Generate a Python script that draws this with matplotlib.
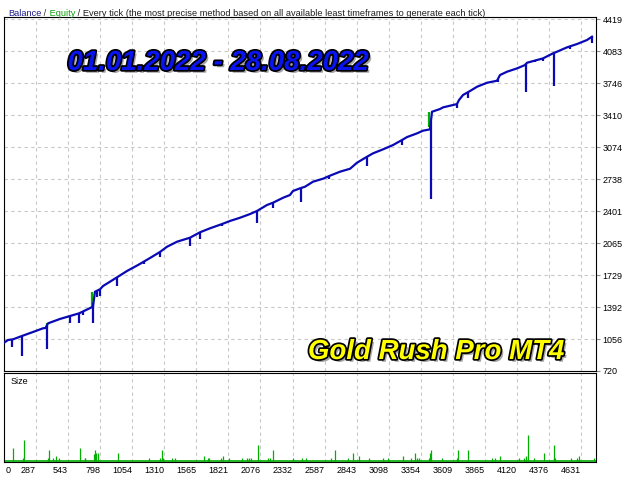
import matplotlib.pyplot as plt
import matplotlib.patheffects as pe
import numpy as np

# balance curve: trade number -> balance
bal_t = [32, 64, 104, 175, 263, 343, 363, 383, 478, 558, 630, 741, 757, 797, 821, 877,
         933, 1012, 1100, 1196, 1275, 1331, 1411, 1514, 1594, 1674, 1770, 1833, 1913,
         1993, 2048, 2128, 2176, 2256, 2311, 2335, 2391, 2431, 2495, 2574, 2630, 2710,
         2790, 2845, 2925, 2973, 3053, 3132, 3204, 3244, 3324, 3371, 3427, 3443, 3507,
         3531, 3611, 3642, 3658, 3690, 3746, 3802, 3882, 3961, 3985, 4041, 4121, 4184,
         4200, 4280, 4328, 4407, 4439, 4519, 4599, 4678, 4718]
bal_v = [1017, 1046, 1053, 1088, 1130, 1169, 1172, 1221, 1267, 1298, 1326, 1396, 1553,
         1579, 1613, 1659, 1705, 1771, 1834, 1908, 1971, 2026, 2079, 2121, 2178, 2220,
         2265, 2297, 2331, 2370, 2402, 2465, 2489, 2541, 2570, 2612, 2640, 2657, 2710,
         2741, 2773, 2815, 2846, 2909, 2972, 3008, 3050, 3095, 3148, 3179, 3218, 3246,
         3260, 3445, 3474, 3491, 3516, 3526, 3568, 3621, 3663, 3708, 3750, 3771, 3831,
         3866, 3901, 3936, 3960, 3989, 4006, 4059, 4076, 4122, 4157, 4199, 4234]

# equity drawdowns (trade number, lowest equity)
spike_t = [96, 179, 372, 558, 630, 662, 745, 773, 797, 933, 1148, 1275, 1514, 1594,
           1770, 2048, 2176, 2399, 2622, 2925, 3204, 3435, 3642, 3730, 3969, 4192,
           4264, 4328, 4415, 4543, 4718]
spike_low = [972, 878, 956, 1224, 1221, 1309, 1228, 1501, 1508, 1613, 1841, 1915, 2034,
             2110, 2244, 2272, 2430, 2499, 2734, 2878, 3095, 2528, 3481, 3586, 3761,
             3649, 3968, 3978, 3715, 4101, 4170]

# equity jumps (green)
jump_t = [371, 733, 3419, 4192]
jump_lo = [1172, 1396, 3284, 3930]
jump_hi = [1221, 1553, 3442, 3960]

# position sizes
size_t = [106, 186, 194, 380, 388, 425, 449, 473, 640, 675, 680, 747, 755, 763, 784, 943,
          1190, 1275, 1289, 1302, 1373, 1397, 1628, 1660, 1668, 1764, 1780, 1828, 1931,
          1971, 1987, 2003, 2059, 2138, 2152, 2178, 2338, 2405, 2439, 2636, 2672, 2771,
          2816, 2859, 2939, 3055, 3095, 3214, 3278, 3310, 3326, 3342, 3417, 3425, 3438,
          3525, 3645, 3653, 3733, 3919, 3948, 3988, 4136, 4179, 4195, 4205, 4258, 4338,
          4412, 4417, 4425, 4547, 4597, 4611, 4731]
size_v = [0.08, 0.02, 0.13, 0.02, 0.07, 0.02, 0.03, 0.02, 0.08, 0.02, 0.02, 0.04, 0.07,
          0.05, 0.05, 0.05, 0.02, 0.02, 0.07, 0.02, 0.02, 0.02, 0.03, 0.02, 0.02, 0.02,
          0.03, 0.02, 0.02, 0.02, 0.02, 0.02, 0.10, 0.02, 0.02, 0.07, 0.02, 0.02, 0.02,
          0.02, 0.07, 0.02, 0.05, 0.03, 0.02, 0.02, 0.02, 0.03, 0.02, 0.05, 0.02, 0.02,
          0.02, 0.05, 0.07, 0.02, 0.02, 0.07, 0.07, 0.02, 0.02, 0.03, 0.02, 0.02, 0.03,
          0.16, 0.02, 0.05, 0.02, 0.10, 0.02, 0.02, 0.02, 0.03, 0.02]

y_ticks = [720, 1056, 1392, 1729, 2065, 2401, 2738, 3074, 3410, 3746, 4083, 4419]
x_ticks = [287, 543, 798, 1054, 1310, 1565, 1821, 2076, 2332, 2587, 2843, 3098, 3354,
           3609, 3865, 4120, 4376, 4631]

BLUE = '#0a0ab4'
GREEN = '#00b000'
GRID = '#c8c8c8'

plt.rcParams['font.family'] = ['Liberation Sans', 'DejaVu Sans']

fig = plt.figure(figsize=(6.4, 4.8), dpi=100)
ax = fig.add_axes([4 / 640, 109 / 480, 591.5 / 640, 354 / 480])
ax2 = fig.add_axes([4 / 640, 18 / 480, 591.5 / 640, 89 / 480])

xlim = (32, 4746)

# --- main panel ---
ax.set_xlim(*xlim)
ax.set_ylim(720, 4441)
ax.set_xticks(x_ticks)
ax.set_yticks(y_ticks)
ax.tick_params(axis='x', length=0, labelbottom=False)
ax.yaxis.tick_right()
ax.tick_params(axis='y', length=3, color='#909090', labelsize=6.5, pad=2)
ax.grid(color=GRID, ls=(0, (3, 3)), lw=0.8)

ax.vlines(jump_t, jump_lo, jump_hi, color=GREEN, lw=1.6, zorder=3)
spike_top = np.interp(spike_t, bal_t, bal_v)
ax.vlines(spike_t, spike_low, spike_top, color=BLUE, lw=1.6, zorder=4)
ax.plot(bal_t, bal_v, color=BLUE, lw=1.6, zorder=4)

shadow = pe.SimplePatchShadow(offset=(2, -2), shadow_rgbFace='black', alpha=0.35)
big = dict(ha='center', va='center', fontsize=19.9, fontweight='bold', fontstyle='italic',
           path_effects=[shadow, pe.Stroke(linewidth=2.5, foreground='black'), pe.Normal()])
fig.text(218 / 640, 1 - 63 / 480, '01.01.2022 - 28.08.2022', color='#0a14f0', **big)
fig.text(436 / 640, 1 - 352 / 480, 'Gold Rush Pro MT4', color='#ffff00', **big)

# header, coloured piece by piece
prev = fig.text(8 / 640, 1 - 13.5 / 480, 'Balance', color='#1e1e8c', fontsize=6.7, va='center')
for txt, col in [(' /', '#303030'), (' Equity', '#10a010'),
                 (' / Every tick (the most precise method based on all available least '
                  'timeframes to generate each tick)', '#202020')]:
    prev = ax.annotate(txt, xy=(1, 0.5), xycoords=prev, va='center', ha='left',
                       color=col, fontsize=6.7, annotation_clip=False)

# --- size panel ---
ax2.set_xlim(*xlim)
ax2.set_ylim(-0.008, 0.548)
ax2.set_xticks(x_ticks)
ax2.set_xticklabels([str(v) for v in x_ticks], ha='right')
ax2.set_yticks([])
ax2.tick_params(axis='x', length=0, labelsize=6.5, pad=3)
ax2.grid(axis='x', color=GRID, ls=(0, (3, 3)), lw=0.8)
ax2.axhline(0, color=GREEN, lw=1.2)
ax2.vlines(size_t, 0, size_v, color=GREEN, lw=0.9)
ax2.text(7 / 591.5, 0.9, 'Size', transform=ax2.transAxes, fontsize=6.5, va='center')
ax2.text(0.002, -0.10, '0', transform=ax2.transAxes, fontsize=6.5, va='center')

fig.savefig('out.png', dpi=100)
